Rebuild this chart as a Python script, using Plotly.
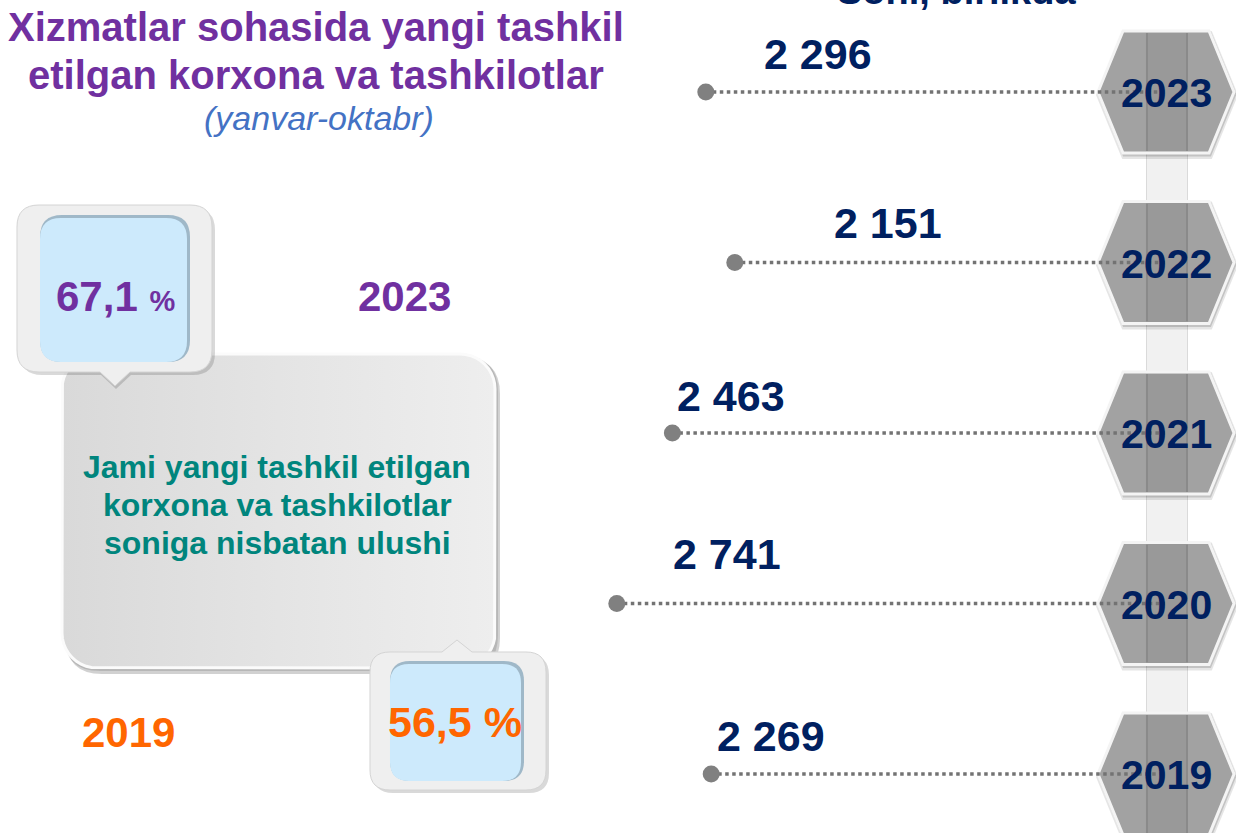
import math
import plotly.graph_objects as go

# ---------------- data ----------------
years = [2019, 2020, 2021, 2022, 2023]
counts = [2269, 2741, 2463, 2151, 2296]
count_labels = ["2 269", "2 741", "2 463", "2 151", "2 296"]
year_labels = ["2019", "2020", "2021", "2022", "2023"]
share_years = ["2023", "2019"]
share_values = ["67,1", "56,5"]
title_lines = ["Xizmatlar sohasida yangi tashkil", "etilgan korxona va tashkilotlar"]
subtitle = "(yanvar-oktabr)"
unit_label = "Soni, birlikda"
box_lines = ["Jami yangi tashkil etilgan", "korxona va tashkilotlar", "soniga nisbatan ulushi"]

# ---------------- layout / style ----------------
W, H = 1236, 833
FONT = "Liberation Sans, Arial, sans-serif"
NAVY = "#002060"
PURPLE = "#7030a0"
ORANGE = "#ff6600"
TEAL = "#00857d"
BLUE = "#4472c4"
GREY = "#737373"

X_RANGE = [5825, -355]          # reversed value axis (0 at the hexagons)
Y_RANGE = [2018.654, 2023.5396]  # year axis
label_dx = [60, 110, 59, 153, 112]   # label offsets (px) per row
label_dy = [38, 50, 37, 40, 38]

HEX_CX = 1166
HEX_HW, HEX_TW, HEX_HH = 68, 43, 61
TRACK_X0, TRACK_X1 = 1147, 1187


def year_px(yr):
    return (Y_RANGE[1] - yr) / (Y_RANGE[1] - Y_RANGE[0]) * H


def P(x, y):
    return f"{x / W:.5f},{1 - y / H:.5f}"


def poly_path(pts):
    s = "M " + P(*pts[0])
    for p in pts[1:]:
        s += " L " + P(*p)
    return s + " Z"


def rrect_path(x0, y0, x1, y1, r, tip_bottom=None, tip_top=None, tw=15, th=14):
    s = "M " + P(x0 + r, y0)
    if tip_top is not None:
        s += " L " + P(tip_top - tw, y0) + " L " + P(tip_top, y0 - th) + " L " + P(tip_top + tw, y0)
    s += " L " + P(x1 - r, y0)
    s += " Q " + P(x1, y0) + " " + P(x1, y0 + r)
    s += " L " + P(x1, y1 - r)
    s += " Q " + P(x1, y1) + " " + P(x1 - r, y1)
    if tip_bottom is not None:
        s += " L " + P(tip_bottom + tw, y1) + " L " + P(tip_bottom, y1 + th) + " L " + P(tip_bottom - tw, y1)
    s += " L " + P(x0 + r, y1)
    s += " Q " + P(x0, y1) + " " + P(x0, y1 - r)
    s += " L " + P(x0, y0 + r)
    s += " Q " + P(x0, y0) + " " + P(x0 + r, y0)
    return s + " Z"


def rrect_pts(x0, y0, x1, y1, r, n=10):
    xs, ys = [], []
    corners = [(x1 - r, y0 + r, -90, 0), (x1 - r, y1 - r, 0, 90), (x0 + r, y1 - r, 90, 180), (x0 + r, y0 + r, 180, 270)]
    for cx, cy, a0, a1 in corners:
        for k in range(n + 1):
            a = math.radians(a0 + (a1 - a0) * k / n)
            xs.append(cx + r * math.cos(a))
            ys.append(cy + r * math.sin(a))
    xs.append(xs[0]); ys.append(ys[0])
    return xs, ys


def shape(path, fill, line="rgba(0,0,0,0)", lw=0, layer="below"):
    return dict(type="path", path=path, xref="paper", yref="paper", layer=layer,
                fillcolor=fill, line=dict(color=line, width=lw))


shapes = []

# ---- big grey box shadow ----
shapes.append(shape(rrect_path(66, 358, 500, 674, 36), "rgba(0,0,0,0.18)"))
shapes.append(shape(rrect_path(64, 356, 498, 671, 36), "rgba(0,0,0,0.12)"))

# ---- top callout (2023 share) ----
A = "above"
shapes.append(shape(rrect_path(20, 208, 215, 375, 22, tip_bottom=116), "rgba(0,0,0,0.15)", layer=A))
shapes.append(shape(rrect_path(17, 205, 212, 372, 22, tip_bottom=115), "#efefef", "#d4d4d4", 1, layer=A))
shapes.append(shape(rrect_path(40, 215, 190, 362, 22), "#9fb8c8", layer=A))
shapes.append(shape(rrect_path(40, 218, 187, 362, 21), "#cdeafc", layer=A))

# ---- bottom callout (2019 share) ----
shapes.append(shape(rrect_path(373, 655, 549, 793, 20, tip_top=458), "rgba(0,0,0,0.15)", layer=A))
shapes.append(shape(rrect_path(370, 652, 546, 790, 20, tip_top=457, th=12), "#efefef", "#d4d4d4", 1, layer=A))
shapes.append(shape(rrect_path(390, 661, 524, 781, 20), "#9fb8c8", layer=A))
shapes.append(shape(rrect_path(390, 664, 521, 781, 19), "#cdeafc", layer=A))

# ---- vertical track ----
top_y = year_px(years[-1])
shapes.append(shape(poly_path([(TRACK_X0 - 1, top_y), (TRACK_X1 + 1, top_y), (TRACK_X1 + 1, H + 5), (TRACK_X0 - 1, H + 5)]), "#dadada"))
shapes.append(shape(poly_path([(TRACK_X0, top_y), (TRACK_X1, top_y), (TRACK_X1, H + 5), (TRACK_X0, H + 5)]), "#f1f1f1"))

# ---- hexagons ----
for yr in years:
    cy = year_px(yr)

    def hexpts(dx=0, dy=0, g=0):
        return [(HEX_CX - HEX_HW - g + dx, cy + dy), (HEX_CX - HEX_TW - g * 0.6 + dx, cy - HEX_HH - g + dy),
                (HEX_CX + HEX_TW + g * 0.6 + dx, cy - HEX_HH - g + dy), (HEX_CX + HEX_HW + g + dx, cy + dy),
                (HEX_CX + HEX_TW + g * 0.6 + dx, cy + HEX_HH + g + dy), (HEX_CX - HEX_TW - g * 0.6 + dx, cy + HEX_HH + g + dy)]
    shapes.append(shape(poly_path(hexpts(1, 3, 3)), "rgba(0,0,0,0.10)"))
    shapes.append(shape(poly_path(hexpts(1, 2, 1.5)), "rgba(0,0,0,0.15)"))
    shapes.append(shape(poly_path(hexpts()), "#a2a2a2", "#f4f4f4", 3))
    shapes.append(shape(poly_path([(TRACK_X0 - 1, cy - HEX_HH + 2), (TRACK_X1 + 1, cy - HEX_HH + 2),
                                   (TRACK_X1 + 1, cy + HEX_HH - 2), (TRACK_X0 - 1, cy + HEX_HH - 2)]), "#8a8a8a"))
    shapes.append(shape(poly_path([(TRACK_X0 + 1, cy - HEX_HH + 2), (TRACK_X1 - 1, cy - HEX_HH + 2),
                                   (TRACK_X1 - 1, cy + HEX_HH - 2), (TRACK_X0 + 1, cy + HEX_HH - 2)]), "#999999"))

fig = go.Figure()

# dotted connector lines (value -> 0 at the hexagon)
lx, ly = [], []
for c, yr in zip(counts, years):
    lx += [c, 0, None]
    ly += [yr, yr, None]
fig.add_trace(go.Scatter(x=lx, y=ly, mode="lines", line=dict(color=GREY, width=3.5, dash="dot"),
                         hoverinfo="skip", showlegend=False))
fig.add_trace(go.Scatter(x=counts, y=years, mode="markers", marker=dict(color="#808080", size=17),
                         hoverinfo="skip", showlegend=False))

# big grey box with a soft gradient (pixel overlay axes)
bx, by = rrect_pts(62, 354, 495, 668, 35)
fig.add_trace(go.Scatter(x=bx, y=by, xaxis="x2", yaxis="y2", mode="lines", fill="toself",
                         line=dict(color="#fbfbfb", width=3),
                         fillgradient=dict(type="horizontal", colorscale=[[0, "#d9d9d9"], [0.5, "#e4e4e4"], [1, "#eeeeee"]]),
                         hoverinfo="skip", showlegend=False))

ann = []


def text_px(x, y, txt, size, color, italic=False, bold=True):
    t = f"<b>{txt}</b>" if bold else txt
    if italic:
        t = f"<i>{t}</i>"
    ann.append(dict(x=x / W, y=1 - y / H, xref="paper", yref="paper", text=t, showarrow=False,
                    xanchor="center", yanchor="middle", font=dict(family=FONT, size=size, color=color)))


# titles
text_px(316, 27, title_lines[0], 40, PURPLE)
text_px(316, 75, title_lines[1], 40, PURPLE)
text_px(319, 118, subtitle, 34, BLUE, italic=True, bold=False)
text_px(956, -9, unit_label, 38, NAVY)

# left infographic
text_px(115, 297, share_values[0] + " <span style='font-size:29px'>%</span>", 42, PURPLE)
text_px(404, 297, share_years[0], 42, PURPLE)
for i, ln in enumerate(box_lines):
    text_px(277, 467 + 38 * i, ln, 32, TEAL)
text_px(455, 722, share_values[1] + " %", 43, ORANGE)
text_px(128, 732, share_years[1], 42, ORANGE)

# value labels
for c, yr, lab, dx, dy in zip(counts, years, count_labels, label_dx, label_dy):
    ann.append(dict(x=c, y=yr, xref="x", yref="y", text=f"<b>{lab}</b>", showarrow=False,
                    xanchor="center", yanchor="middle", xshift=dx, yshift=dy,
                    font=dict(family=FONT, size=43, color=NAVY)))

# year labels in hexagons
for yr, lab in zip(years, year_labels):
    ann.append(dict(x=HEX_CX / W, y=yr, xref="paper", yref="y", text=f"<b>{lab}</b>", showarrow=False,
                    xanchor="center", yanchor="middle", yshift=-1,
                    font=dict(family=FONT, size=41, color=NAVY)))

fig.update_layout(
    width=W, height=H, autosize=False,
    margin=dict(l=0, r=0, t=0, b=0, pad=0),
    paper_bgcolor="white", plot_bgcolor="rgba(0,0,0,0)",
    xaxis=dict(range=X_RANGE, visible=False, domain=[0, 1], fixedrange=True),
    yaxis=dict(range=Y_RANGE, visible=False, domain=[0, 1], fixedrange=True),
    xaxis2=dict(range=[0, W], visible=False, overlaying="x", fixedrange=True),
    yaxis2=dict(range=[H, 0], visible=False, overlaying="y", fixedrange=True),
    shapes=shapes, annotations=ann, showlegend=False,
)

fig.write_html("out.html", config={"displayModeBar": False},
               post_script="document.body.style.margin='0';document.body.style.overflow='hidden';")
